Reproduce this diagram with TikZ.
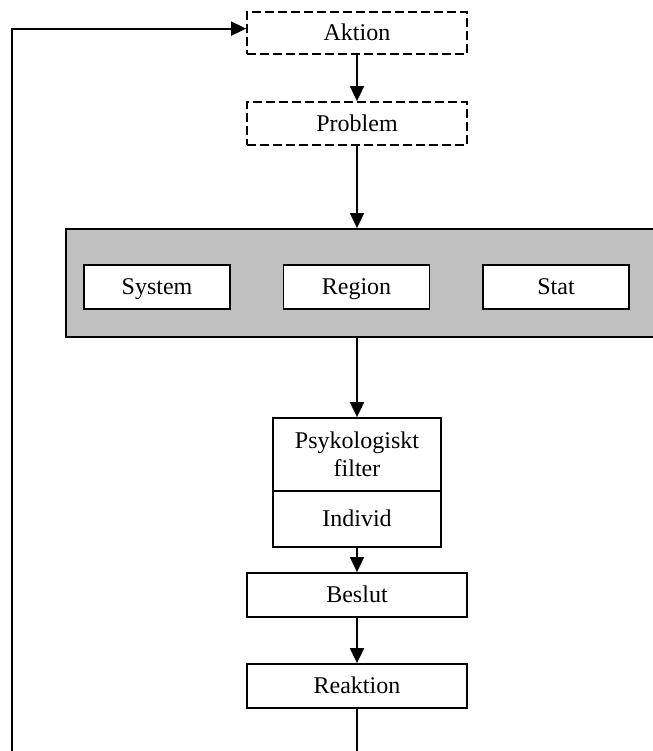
\documentclass[tikz,border=0pt]{standalone}
\usepackage{fontspec}
\setmainfont{Liberation Serif}
\usetikzlibrary{arrows.meta}
\usetikzlibrary{calc}
\definecolor{grafarg}{RGB}{192,192,192}

\begin{document}
\begin{tikzpicture}[x=0.5pt,y=-0.5pt,font=\fontsize{12}{14}\selectfont,line width=0.9pt,
		ruta/.style={draw,inner sep=0pt,align=center,minimum width=110pt,minimum height=22pt},
		rad/.style={ruta,text height=8.2pt,text depth=0.3pt},
		streckad/.style={rad,dash pattern=on 4.5pt off 2pt},
		pil/.style={-{Triangle[length=7.5pt,width=7pt]}}]
	\useasboundingbox (0,0) rectangle (653,751);
	\clip (0,0) rectangle (653,751);
	\node[streckad,minimum height=21pt] (aktion) at (357,33) {Aktion};
	\node[streckad,minimum height=21.5pt] (problem) at (357,123.5) {Problem};
	\node[draw,fill=grafarg,minimum width=317pt,minimum height=54pt] (grupp) at (383,283) {};
	\foreach \namn/\xpos in {System/157, Region/356.5, Stat/556} {
		\node[rad,fill=white,minimum width=73pt] (\namn) at (\xpos,287) {\namn};
	}
	\node[ruta,minimum width=84pt,minimum height=36.5pt] (filter) at (357,454.5) {Psykologiskt\\filter};
	\node[rad,minimum width=84pt,minimum height=28pt] (individ) at (357,519) {Individ};
	\node[rad] (beslut) at (357,595) {Beslut};
	\node[rad] (reaktion) at (357,686) {Reaktion};
	\coordinate (nedH) at (357,751);
	\coordinate (nedV) at (12,751);
	\draw[pil] (aktion) -- (problem);
	\draw[pil] (problem) -- (problem |- grupp.north);
	\draw[pil] (problem |- grupp.south) -- (filter);
	\draw[pil] (individ) -- (beslut);
	\draw[pil] (beslut) -- (reaktion);
	\draw (reaktion) -- (nedH);
	\draw[pil] (nedV) |- ($(aktion.north west)!0.4!(aktion.south west)$);
\end{tikzpicture}
\end{document}
